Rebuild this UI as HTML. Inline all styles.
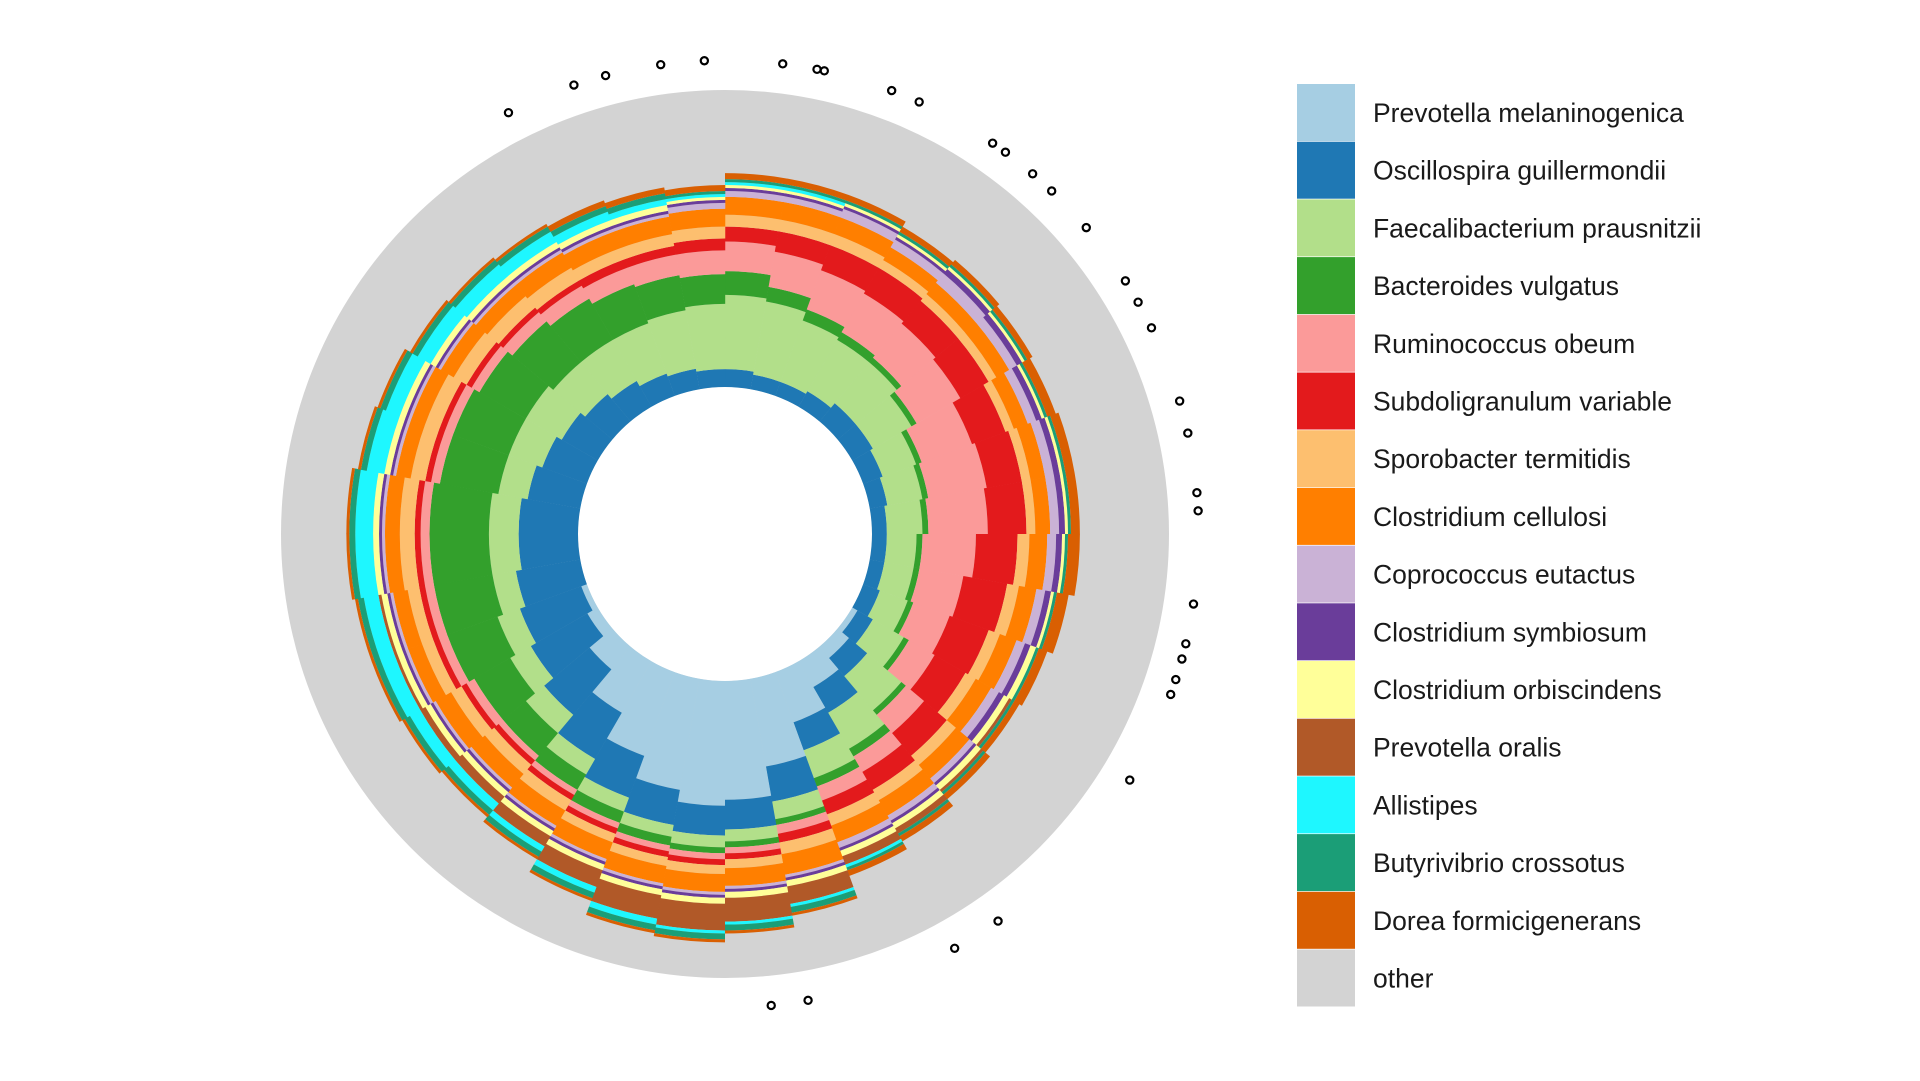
<!DOCTYPE html>
<html><head><meta charset="utf-8"><style>
html,body{margin:0;padding:0;background:#fff;}
svg{display:block;font-family:"Liberation Sans",Arial,sans-serif;}
</style></head><body>
<svg id="chart" width="1920" height="1081" viewBox="0 0 1920 1081">
<g id="ring"></g>
<g id="markers"></g>
<g id="legend"></g>
</svg>
<script>
const species = ["Prevotella melaninogenica","Oscillospira guillermondii","Faecalibacterium prausnitzii","Bacteroides vulgatus","Ruminococcus obeum","Subdoligranulum variable","Sporobacter termitidis","Clostridium cellulosi","Coprococcus eutactus","Clostridium symbiosum","Clostridium orbiscindens","Prevotella oralis","Allistipes","Butyrivibrio crossotus","Dorea formicigenerans","other"];
const colors = ["#a6cee3","#1f78b4","#b2df8a","#33a02c","#fb9a99","#e31a1c","#fdbf6f","#ff7f00","#cab2d6","#6a3d9a","#ffff99","#b15928","#1ef7ff","#1b9e77","#d95f02","#d3d3d3"];
// each row = one 10° sector (clockwise from top), stacked abundance of the 15 named species
const sectorValues = [
[0,.06,.25,.08,.1,.05,.04,.06,.02,.01,.01,0,.01,.01,.02],
[0,.05,.25,.05,.12,.07,.04,.06,.02,.01,.01,0,.01,.01,.02],
[0,.05,.22,.04,.14,.09,.04,.06,.03,.01,.01,0,0,.01,.02],
[0,.06,.2,.03,.15,.1,.03,.05,.03,.01,.01,0,0,.01,.02],
[0,.08,.18,.02,.15,.1,.03,.05,.04,.02,.01,0,0,.01,.02],
[0,.08,.15,.02,.17,.11,.03,.05,.03,.02,.01,0,0,.01,.02],
[0,.07,.12,.02,.18,.12,.03,.05,.03,.02,.01,0,0,.01,.03],
[0,.06,.12,.02,.2,.12,.03,.05,.03,.02,.01,0,0,.01,.03],
[0,.05,.12,.02,.2,.13,.03,.05,.03,.02,.01,0,0,.01,.03],
[0,.05,.1,.02,.18,.14,.04,.06,.03,.02,.01,0,0,.01,.04],
[0,.05,.1,.02,.15,.15,.04,.06,.03,.02,.01,0,0,.01,.04],
[0,.06,.1,.02,.13,.14,.04,.06,.03,.02,.02,0,0,.01,.03],
[.02,.06,.12,.02,.1,.12,.04,.06,.03,.02,.02,.01,0,.01,.02],
[.05,.08,.15,.02,.08,.1,.04,.06,.02,.01,.02,.01,0,.01,.02],
[.1,.1,.14,.03,.06,.07,.04,.06,.02,.01,.02,.02,0,.01,.02],
[.18,.1,.1,.03,.05,.05,.04,.06,.02,.01,.02,.03,.01,.01,.02],
[.3,.12,.06,.02,.03,.03,.04,.07,.01,.01,.02,.06,.01,.02,.01],
[.4,.1,.04,.02,.02,.02,.03,.06,.01,.01,.02,.08,.01,.02,.01],
[.42,.1,.04,.02,.02,.02,.03,.06,.01,.01,.02,.09,.01,.02,.01],
[.38,.12,.04,.03,.02,.02,.03,.06,.01,.01,.02,.08,.02,.02,.01],
[.3,.15,.05,.04,.02,.02,.03,.06,.01,.01,.02,.06,.02,.02,.01],
[.2,.18,.06,.06,.02,.02,.04,.06,.01,.01,.02,.04,.02,.02,.01],
[.1,.2,.08,.1,.02,.02,.04,.06,.01,.01,.02,.03,.03,.02,.01],
[.04,.22,.08,.14,.03,.02,.04,.06,.01,.01,.02,.02,.04,.02,.01],
[.02,.22,.08,.18,.03,.02,.04,.05,.01,.01,.02,.01,.05,.02,.01],
[0,.22,.08,.2,.03,.02,.04,.05,.01,.01,.02,.01,.05,.02,.01],
[0,.2,.1,.2,.03,.02,.05,.05,.01,.01,.02,0,.06,.02,.01],
[0,.2,.1,.2,.03,.02,.05,.05,.01,.01,.02,0,.06,.02,.01],
[0,.18,.1,.2,.03,.02,.05,.05,.01,.01,.02,0,.06,.02,.01],
[0,.16,.12,.2,.03,.02,.05,.05,.01,.01,.02,0,.05,.02,.01],
[0,.14,.14,.18,.03,.02,.05,.05,.01,.01,.02,0,.05,.02,.01],
[0,.12,.14,.18,.04,.02,.05,.05,.01,.01,.02,0,.05,.02,.01],
[0,.1,.16,.16,.05,.02,.05,.06,.01,.01,.02,0,.04,.02,.01],
[0,.08,.18,.14,.06,.03,.04,.06,.01,.01,.02,0,.03,.02,.02],
[0,.07,.2,.12,.07,.03,.04,.06,.01,.01,.02,0,.02,.02,.02],
[0,.06,.22,.1,.08,.04,.04,.06,.02,.01,.01,0,.01,.01,.02]
];
const markerAngles = [332.8,341.4,345.4,352.2,357.5,7.0,11.2,12.1,20.6,24.2,34.4,36.3,40.5,43.6,49.7,57.7,60.7,64.2,73.7,77.7,85.0,87.2,98.5,103.4,105.3,107.9,109.8,121.3,144.8,151.0,169.9,174.4];
const markerValue = 1.1;

const NS="http://www.w3.org/2000/svg";
const CX=725, CY=534, R0=147, R1=444;
const rScale = v => R0 + v*(R1-R0);
const aScale = i => i*360/sectorValues.length;
function pt(a,r){const t=(a-90)*Math.PI/180;return [CX+r*Math.cos(t), CY+r*Math.sin(t)];}
function wedge(a0,a1,r0,r1){
  const p1=pt(a0,r0),p2=pt(a0,r1),p3=pt(a1,r1),p4=pt(a1,r0);
  return `M${p1}L${p2}A${r1},${r1} 0 0 1 ${p3}L${p4}A${r0},${r0} 0 0 0 ${p1}Z`;
}
const ring=document.getElementById('ring');
const bg=document.createElementNS(NS,'path');
bg.setAttribute('d',`M${CX-R1},${CY}a${R1},${R1} 0 1 0 ${2*R1},0a${R1},${R1} 0 1 0 ${-2*R1},0Z M${CX-R0},${CY}a${R0},${R0} 0 1 1 ${2*R0},0a${R0},${R0} 0 1 1 ${-2*R0},0Z`);
bg.setAttribute('fill',colors[15]);bg.setAttribute('fill-rule','evenodd');


ring.appendChild(bg);
sectorValues.forEach((row,i)=>{
  const a0=aScale(i), a1=aScale(i+1)+0.05;
  let cum=0;
  row.forEach((v,k)=>{
    if(v<=0)return;
    const p=document.createElementNS(NS,'path');
    p.setAttribute('d',wedge(a0,a1,rScale(cum),rScale(cum+v)));
    p.setAttribute('fill',colors[k]);
    
    
    ring.appendChild(p);
    cum+=v;
  });
});
const mk=document.getElementById('markers');
markerAngles.forEach(a=>{
  const [x,y]=pt(a,rScale(markerValue));
  const c=document.createElementNS(NS,'circle');
  c.setAttribute('cx',x);c.setAttribute('cy',y);c.setAttribute('r',3.6);
  c.setAttribute('fill','none');c.setAttribute('stroke','#000');c.setAttribute('stroke-width',2.2);
  
  
  mk.appendChild(c);
});
const lg=document.getElementById('legend');
species.forEach((s,i)=>{
  const y=84+i*57.7;
  const r=document.createElementNS(NS,'rect');
  r.setAttribute('x',1297);r.setAttribute('y',y);r.setAttribute('width',58);r.setAttribute('height',57);
  r.setAttribute('fill',colors[i]);
  
  
  lg.appendChild(r);
  const t=document.createElementNS(NS,'text');
  t.setAttribute('x',1373);t.setAttribute('y',y+38);
  t.setAttribute('font-size',26.5);t.setAttribute('fill','#1a1a1a');
  t.textContent=s;
  
  
  lg.appendChild(t);
});
</script>
</body></html>
